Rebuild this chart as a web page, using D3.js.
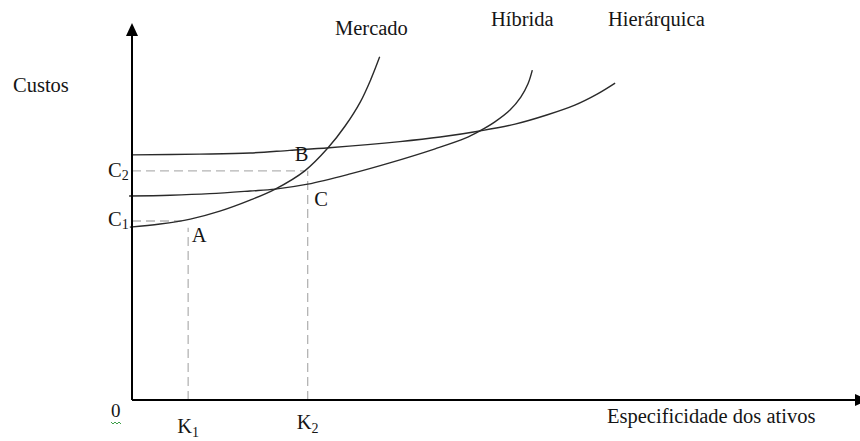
<!DOCTYPE html>
<html>
<head>
<meta charset="utf-8">
<script src="https://cdn.jsdelivr.net/npm/d3@7"></script>
<style>
  body { margin: 0; background: #fff; }
  text { font-family: "Liberation Serif", "Times New Roman", serif; fill: #151515; }
</style>
</head>
<body>
<svg id="chart" width="860" height="441"></svg>
<script>
// ---------------------------------------------------------------- //
// Data (asset specificity on x, costs on y, both 0..100)

var mercado = [[-0.3,45.5],[3.9,46.3],[8.1,47.6],[12.2,49.7],[16.4,52.6],[19.9,55.5],[24.0,60.3],[27.2,66.3],[29.6,72.1],[31.7,78.4],[33.2,84.5],[34.4,90.3]];
var hibrida = [[-0.4,53.7],[5.3,53.9],[10.8,54.3],[16.4,55.0],[19.9,55.5],[24.4,56.8],[30.3,59.5],[35.8,62.4],[42.1,66.1],[46.3,68.9],[48.3,70.8],[50.4,73.2],[52.5,76.3],[54.0,79.7],[55.0,83.2],[55.6,86.8]];
var hierarquica = [[0,64.5],[9.4,64.7],[16.4,65.0],[21.9,65.7],[27.4,66.4],[37.2,68.0],[42.8,69.2],[48.3,70.8],[53.2,72.6],[57.6,75.0],[61.5,77.6],[64.6,80.5],[67.1,83.4]];

var curveNames = ['Mercado', 'Híbrida', 'Hierárquica'];
var k_values = [7.8, 24.4];          // K1, K2
var c_values = [47.1, 60.3];         // C1, C2
var c_ends = [6.9, 24.0];            // where the dashed cost lines stop
var k_tops = [45.3, 60.3];           // where the dashed K lines stop
var points = [['A', 8.3, 41.6], ['B', 22.6, 62.9], ['C', 25.3, 51.1]];

// ---------------------------------------------------------------- //
// Setup

var width = 860, height = 441;
var svg = d3.select('#chart');

var x = d3.scaleLinear().domain([0,100]).range([132,852]);
var y = d3.scaleLinear().domain([0,100]).range([400,20]);

var line_gen = d3.line().x((d) => x(d[0])).y((d) => y(d[1])).curve(d3.curveCatmullRom.alpha(0.5));

// dashed guides
var dash = { stroke: '#b4b4b4', 'stroke-width': 1.3, 'stroke-dasharray': '9,5', fill: 'none' };
function applyAttrs(sel, a){ Object.keys(a).forEach((k) => sel.attr(k, a[k])); return sel; }

c_values.forEach((c, i) => {
  applyAttrs(svg.append('line'), dash)
    .attr('x1', x(0)).attr('x2', x(c_ends[i])).attr('y1', y(c)).attr('y2', y(c));
});
k_values.forEach((k, i) => {
  applyAttrs(svg.append('line'), dash)
    .attr('x1', x(k)).attr('x2', x(k)).attr('y1', y(0)).attr('y2', y(k_tops[i]));
});

// curves
[mercado, hibrida, hierarquica].forEach((d) => {
  svg.append('path').datum(d)
    .attr('d', line_gen)
    .attr('fill', 'none')
    .attr('stroke', '#2a2a2a')
    .attr('stroke-width', 1.4);
});

// axes
svg.append('line').attr('x1', x(0)).attr('y1', y(0)).attr('x2', x(0)).attr('y2', 34)
  .attr('stroke', '#000').attr('stroke-width', 2);
svg.append('path').attr('d', 'M' + x(0) + ',23 L' + (x(0)-6) + ',36 L' + (x(0)+6) + ',36 Z').attr('fill', '#000');

svg.append('line').attr('x1', x(0)).attr('y1', y(0)).attr('x2', 856).attr('y2', y(0))
  .attr('stroke', '#000').attr('stroke-width', 2);
svg.append('path').attr('d', 'M868,' + y(0) + ' L855,' + (y(0)-6) + ' L855,' + (y(0)+6) + ' Z').attr('fill', '#000');

// ---------------------------------------------------------------- //
// Labels

var fs = 20.5;
function label(txt, px, py, size){
  return svg.append('text').attr('x', px).attr('y', py).attr('font-size', (size || fs) + 'px').text(txt);
}

label('Custos', 13, 92);
label('Especificidade dos ativos', 607, 423);
label(curveNames[0], 335, 35);
label(curveNames[1], 491, 26);
label(curveNames[2], 608, 26);

// origin, with the green spell-check squiggle
label('0', 111, 417, 19);
svg.append('path').attr('d', 'M111,422 l2,2 l2,-2 l2,2 l2,-2 l2,2')
  .attr('fill', 'none').attr('stroke', '#3fa04a').attr('stroke-width', 1);

// K1, K2 under the x axis
[['K', '1', 433], ['K', '2', 429]].forEach((d, i) => {
  var t = svg.append('text').attr('x', x(k_values[i]) - 11).attr('y', d[2]).attr('font-size', fs + 'px');
  t.append('tspan').text(d[0]);
  t.append('tspan').attr('font-size', '14px').attr('dy', 4).text(d[1]);
});

// C1, C2 left of the y axis
[['C', '1', 226], ['C', '2', 177]].forEach((d) => {
  var t = svg.append('text').attr('x', 108).attr('y', d[2]).attr('font-size', fs + 'px');
  t.append('tspan').text(d[0]);
  t.append('tspan').attr('font-size', '14px').attr('dy', 3).text(d[1]);
});

points.forEach((p) => { label(p[0], x(p[1]), y(p[2])); });
</script>
</body>
</html>
